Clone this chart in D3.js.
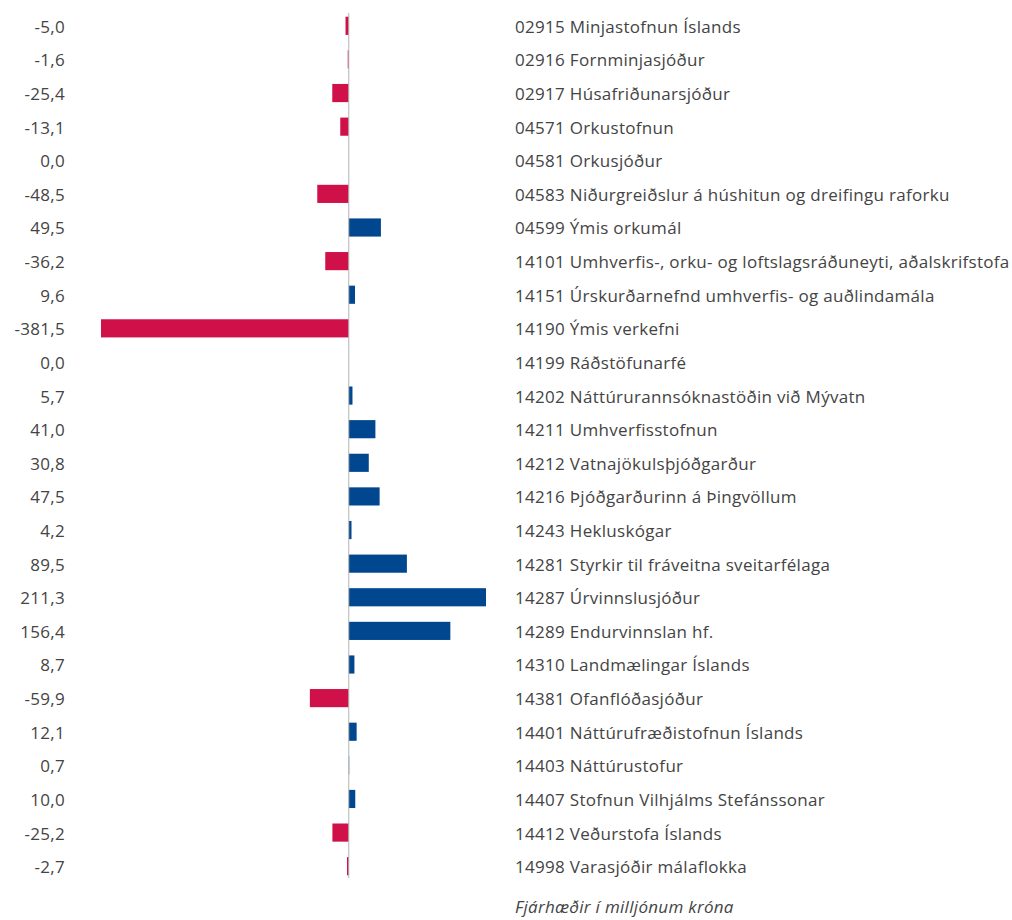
<!DOCTYPE html>
<html>
<head>
<meta charset="utf-8">
<script src="https://cdn.jsdelivr.net/npm/d3@7"></script>
<style>
  body { margin: 0; background: #fff; }
  text { font-family: "Open Sans", "Noto Sans", sans-serif; fill: #444; }
</style>
</head>
<body>
<div id="chart"></div>
<script>
var categories = [
  '02915 Minjastofnun Íslands',
  '02916 Fornminjasjóður',
  '02917 Húsafriðunarsjóður',
  '04571 Orkustofnun',
  '04581 Orkusjóður',
  '04583 Niðurgreiðslur á húshitun og dreifingu raforku',
  '04599 Ýmis orkumál',
  '14101 Umhverfis-, orku- og loftslagsráðuneyti, aðalskrifstofa',
  '14151 Úrskurðarnefnd umhverfis- og auðlindamála',
  '14190 Ýmis verkefni',
  '14199 Ráðstöfunarfé',
  '14202 Náttúrurannsóknastöðin við Mývatn',
  '14211 Umhverfisstofnun',
  '14212 Vatnajökulsþjóðgarður',
  '14216 Þjóðgarðurinn á Þingvöllum',
  '14243 Hekluskógar',
  '14281 Styrkir til fráveitna sveitarfélaga',
  '14287 Úrvinnslusjóður',
  '14289 Endurvinnslan hf.',
  '14310 Landmælingar Íslands',
  '14381 Ofanflóðasjóður',
  '14401 Náttúrufræðistofnun Íslands',
  '14403 Náttúrustofur',
  '14407 Stofnun Vilhjálms Stefánssonar',
  '14412 Veðurstofa Íslands',
  '14998 Varasjóðir málaflokka'
];
var values = [-5.0, -1.6, -25.4, -13.1, 0.0, -48.5, 49.5, -36.2, 9.6, -381.5, 0.0, 5.7, 41.0, 30.8, 47.5, 4.2, 89.5, 211.3, 156.4, 8.7, -59.9, 12.1, 0.7, 10.0, -25.2, -2.7];
var footnote = 'Fjárhæðir í milljónum króna';

var width = 1012, height = 920;
var svg = d3.select('#chart').append('svg')
  .attr('width', width)
  .attr('height', height);

var x = d3.scaleLinear()
  .domain([-381.5, 211.3])
  .range([101, 486]);

var y = d3.scaleBand()
  .domain(categories)
  .range([9, 883])
  .paddingInner(0.46)
  .paddingOuter(0.23);

var fmt = function(v) { return d3.format('.1f')(v).replace('.', ',').replace('−', '-'); };

var rows = categories.map(function(c, i) { return { name: c, value: values[i] }; });

svg.append('g').selectAll('rect')
  .data(rows)
  .join('rect')
  .attr('x', function(d) { return x(Math.min(0, d.value)); })
  .attr('y', function(d) { return y(d.name); })
  .attr('width', function(d) { return Math.abs(x(d.value) - x(0)); })
  .attr('height', y.bandwidth())
  .attr('fill', function(d) { return d.value < 0 ? '#d01049' : '#00478f'; });

svg.append('line')
  .attr('x1', x(0)).attr('x2', x(0))
  .attr('y1', 13).attr('y2', 878)
  .attr('stroke', '#b3b3b3')
  .attr('stroke-width', 1);

svg.append('g').selectAll('text')
  .data(rows)
  .join('text')
  .attr('x', 65)
  .attr('y', function(d) { return y(d.name) + y.bandwidth() / 2 + 1; })
  .attr('dy', '0.35em')
  .attr('text-anchor', 'end')
  .style('font-size', '17px')
  .style('letter-spacing', '0.3px')
  .text(function(d) { return fmt(d.value); });

svg.append('g').selectAll('text')
  .data(rows)
  .join('text')
  .attr('x', 515)
  .attr('y', function(d) { return y(d.name) + y.bandwidth() / 2 + 1; })
  .attr('dy', '0.35em')
  .style('font-size', '17px')
  .style('letter-spacing', '0.3px')
  .text(function(d) { return d.name; });

svg.append('text')
  .attr('x', 515)
  .attr('y', 913)
  .style('font-size', '17px')
  .style('letter-spacing', '0.3px')
  .style('font-style', 'italic')
  .text(footnote);
</script>
</body>
</html>
